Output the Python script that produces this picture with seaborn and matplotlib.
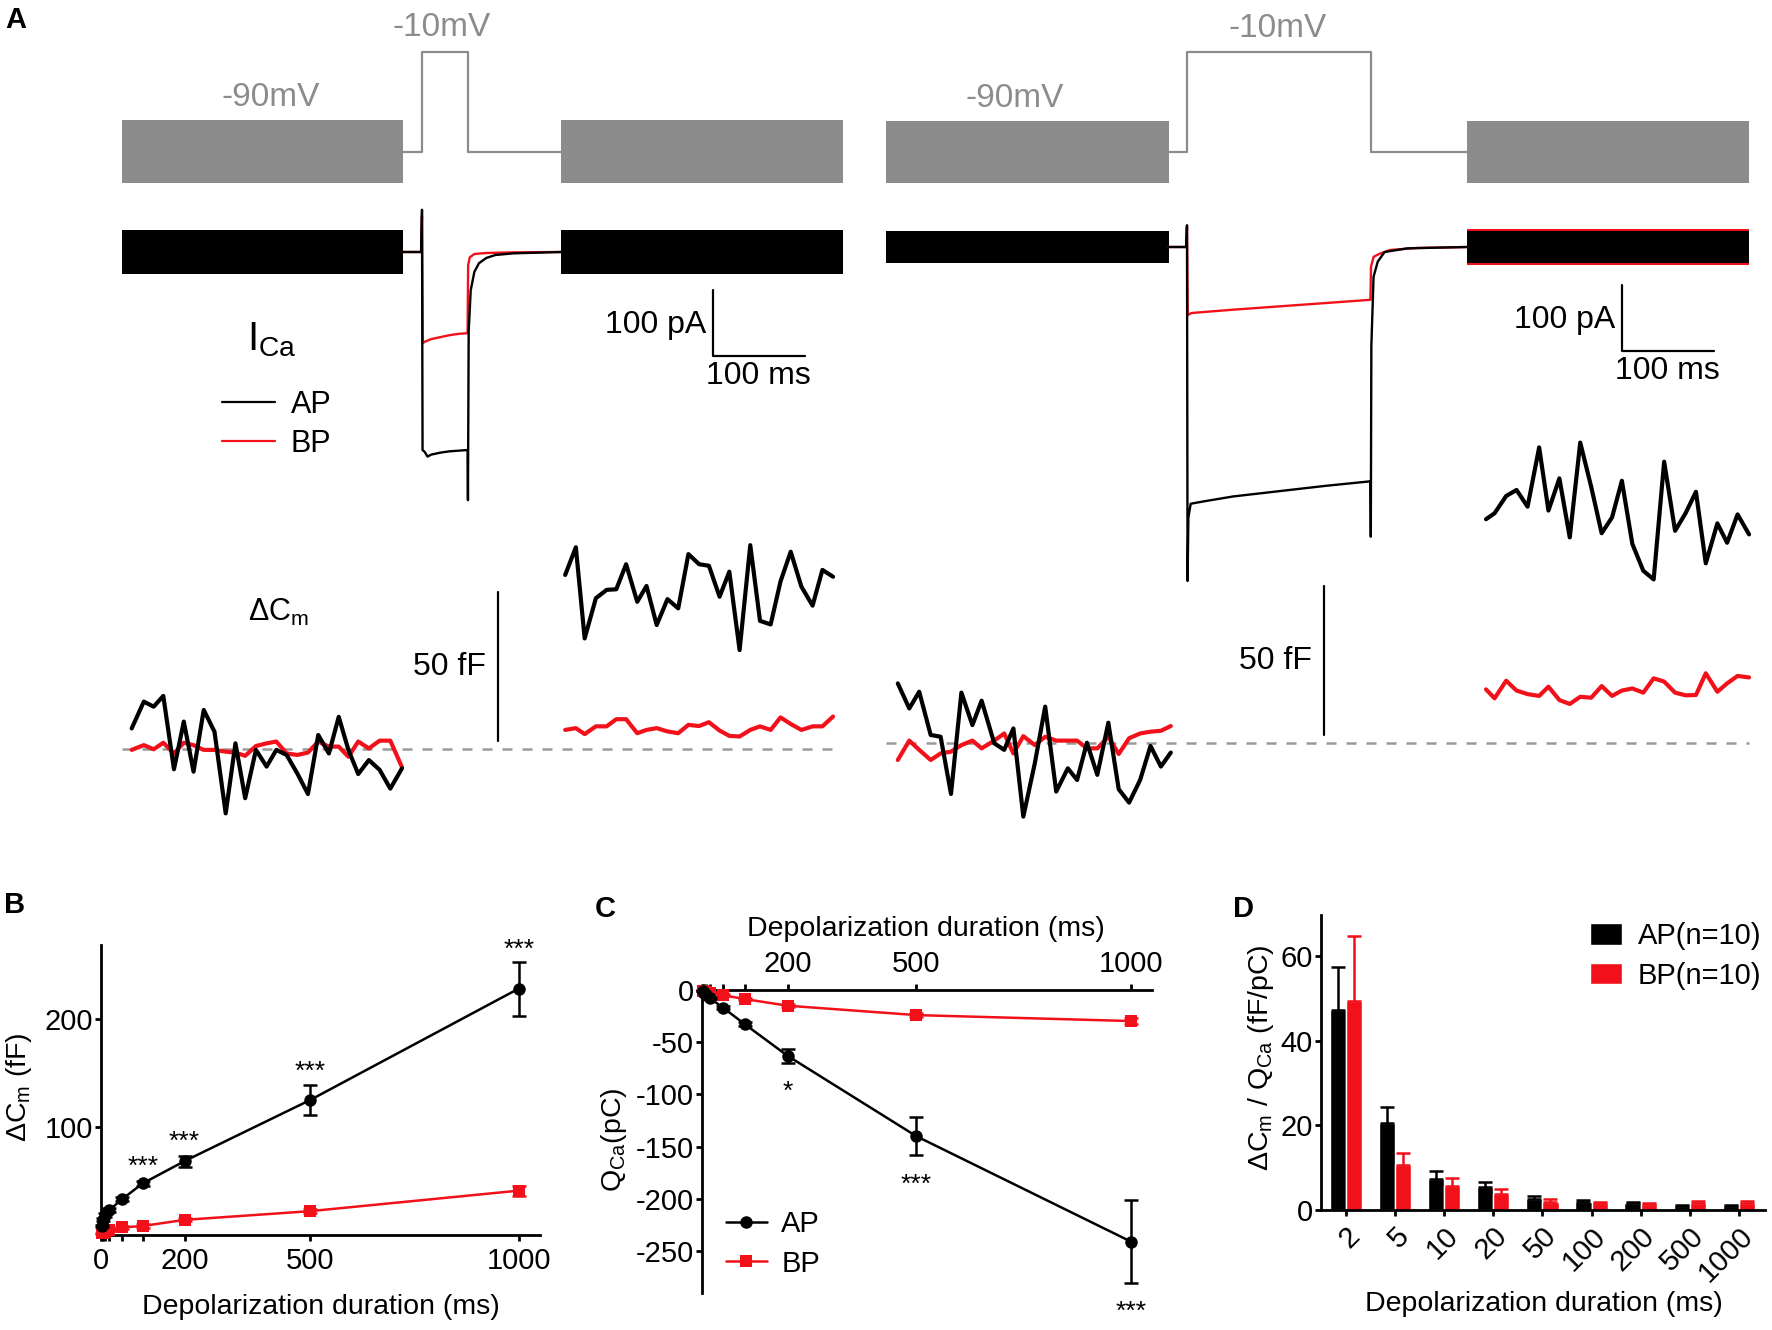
import numpy as np
import pandas as pd
import matplotlib
matplotlib.use("Agg")
import matplotlib.pyplot as plt
from matplotlib.lines import Line2D
import seaborn as sns

# ---------------- data ----------------
# depolarization durations (ms) used in B, C, D
DURATIONS = [2, 5, 10, 20, 50, 100, 200, 500, 1000]

# B: delta Cm (fF)
CM_AP = [8, 14, 18.5, 23, 33, 47.7, 68.3, 124.6, 227.7]
CM_AP_SEM = [1, 1.5, 1.5, 2, 2, 2.5, 5, 14, 25]
CM_BP = [1.5, 2, 3, 4.6, 7, 8.3, 14, 22, 41]
CM_BP_SEM = [0.5, 0.5, 0.5, 1, 1, 1.5, 1.5, 2, 4.5]
STARS_B_X = [100, 200, 500, 1000]
STARS_B_Y = [69, 92, 157, 270]
STARS_B_TXT = ["***", "***", "***", "***"]

# C: Q_Ca (pC)
QCA_AP = [-1, -2.5, -5, -8, -17, -32.6, -63, -140, -241]
QCA_AP_SEM = [0.3, 0.5, 1, 1, 1.5, 2, 7, 18, 40]
QCA_BP = [-0.5, -1, -1.6, -2.5, -5, -8.6, -15, -24, -29.7]
QCA_BP_SEM = [0.2, 0.3, 0.4, 0.5, 1, 1, 1.5, 2, 2.5]
STARS_C_X = [200, 500, 1000]
STARS_C_Y = [-91, -180, -302]
STARS_C_TXT = ["*", "***", "***"]

# D: dCm / QCa (fF/pC)
RATIO_AP = [47.2, 20.6, 7.4, 5.4, 2.5, 2.0, 1.6, 1.0, 1.0]
RATIO_AP_SEM = [10.2, 3.8, 1.9, 1.2, 0.8, 0.3, 0.25, 0.25, 0.25]
RATIO_BP = [49.4, 10.6, 5.7, 3.8, 2.0, 1.7, 1.4, 1.6, 1.7]
RATIO_BP_SEM = [15.3, 2.8, 1.8, 1.2, 0.5, 0.3, 0.25, 0.6, 0.5]

# A: voltage protocol (mV), time in ms with t=0 at step onset
HOLD_MV = -90
STEP_MV = -10
SINE_AMP_MV = 25
L_SINE_BLOCKS = [(-326, -21), (151, 458)]
R_SINE_BLOCKS = [(-328, -20), (305, 612)]
L_PROT_T = [-21, 0, 0, 50, 50, 151]
R_PROT_T = [-20, 0, 0, 200, 200, 305]
PROT_V = [-90, -90, -10, -10, -90, -90]

# A: calcium currents (pA)
L_NOISE_PA = 33
R_NOISE_PA = 24
L_AP_T = [-21, -1, 0, 0.6, 3, 6, 10, 20, 30, 40, 49.6, 50, 50.8, 53, 57, 62, 70, 80, 100, 151]
L_AP_I = [0, 0, 64, -300, -303, -310, -307, -304, -302, -301, -300, -376, -120, -58, -30, -17, -9, -4.5, -2, 0]
L_BP_T = [-21, -1, 0, 0.8, 3, 10, 20, 30, 40, 49.6, 50.2, 52, 57, 70, 100, 151]
L_BP_I = [0, 0, 55, -138, -136, -132, -129, -126, -124, -123, -20, -8, -3, -1.5, -0.5, 0]
R_AP_T = [-20, -1, 0, 0.6, 1.5, 4, 20, 50, 100, 150, 199.6, 200, 200.6, 203, 207.6, 215, 240, 305]
R_AP_I = [0, 0, 33, -506, -410, -389, -385, -378, -370, -362, -355, -439, -150, -45, -22, -7.6, -2, 0]
R_BP_T = [-20, -1, 0, 0.8, 5, 50, 100, 150, 199.6, 200.2, 203, 209, 221, 250, 305]
R_BP_I = [0, 0, 30, -103, -100, -95, -90, -85, -80, -30, -15, -10.6, -4.5, -1.5, 0]

# A: capacitance traces (fF)
L_PRE_T = [-315.9, -302.7, -292.0, -281.5, -269.9, -259.2, -248.6, -237.5, -225.8, -213.6,
           -203.0, -192.4, -180.7, -169.1, -158.5, -147.3, -135.7, -124.1, -112.9, -101.3,
           -90.6, -80.1, -69.4, -57.8, -46.1, -34.5, -21.8]
L_PRE_AP = [6.9, 15.9, 14.2, 17.8, -6.8, 9.2, -7.6, 13.1, 5.8, -21.6, 1.9, -16.5, -0.3, -5.9,
            -0.3, -2.0, -8.2, -15.1, 4.7, -1.5, 10.8, -0.3, -8.4, -3.7, -7.0, -13.3, -6.5]
L_PRE_BP = [-0.3, 1.3, -0.1, 2.1, -1.5, 2.1, 1.3, -0.3, -0.3, -0.9, -1.2, -2.3, 1.0, 1.9,
            2.5, -1.5, -2.0, -1.2, 2.5, 0.8, 0.8, -2.6, 2.5, 0.2, 2.8, 2.8, -6.1]
L_POST_T = [155.8, 167.4, 177.0, 189.2, 200.9, 211.4, 222.1, 234.2, 244.3, 255.4, 267.1,
            278.8, 289.9, 301.5, 312.2, 323.8, 334.4, 345.6, 357.2, 367.8, 379.4, 390.1,
            401.2, 412.8, 425.0, 435.7, 447.3]
L_POST_AP = [58.4, 67.7, 37.1, 50.6, 53.4, 53.6, 62.0, 49.4, 54.7, 41.6, 50.3, 47.2, 65.4,
             62.0, 61.5, 51.1, 59.5, 33.2, 68.4, 43.0, 41.8, 56.2, 66.2, 54.5, 48.1, 60.1, 57.8]
L_POST_BP = [6.4, 7.0, 5.0, 7.6, 7.6, 10.0, 10.0, 5.3, 6.4, 7.0, 5.9, 5.3, 8.1, 7.7, 9.0,
             6.2, 4.4, 4.2, 6.4, 7.6, 6.4, 10.6, 8.4, 6.4, 7.6, 7.6, 10.9]
R_PRE_T = [-314.7, -302.2, -291.4, -278.9, -268.1, -256.8, -245.5, -233.5, -223.5, -209.7,
           -198.9, -188.9, -178.1, -165.6, -154.3, -142.3, -129.7, -119.6, -108.9, -97.6,
           -85.6, -74.3, -63.0, -51.0, -39.7, -28.4, -17.6]
R_PRE_AP = [20.0, 11.6, 17.2, 2.7, 2.1, -17.1, 16.9, 6.0, 14.2, -0.1, -2.3, 4.9, -24.7, -6.8,
            12.2, -16.3, -8.5, -12.4, 0.1, -10.7, 6.8, -15.5, -20.0, -12.4, -1.0, -7.9, -3.2]
R_PRE_BP = [-5.7, 0.8, -2.3, -5.7, -3.5, -2.9, -0.7, 0.8, -1.8, 0.8, 3.2, -3.5, 2.3, -0.7,
            2.1, 0.8, 0.8, 0.8, -1.8, -1.8, 2.1, -3.7, 1.6, 3.2, 3.8, 4.1, 5.7]
R_POST_T = [325.4, 334.7, 347.3, 358.6, 370.6, 383.2, 393.3, 405.2, 416.5, 427.9, 439.8,
            451.2, 462.5, 473.2, 484.6, 496.5, 507.8, 519.2, 531.1, 542.5, 553.8, 564.5,
            577.1, 587.7, 599.1, 611.6]
R_POST_AP = [75.1, 77.1, 82.9, 84.9, 79.3, 99.2, 78.0, 88.8, 69.0, 100.8, 86.0, 70.4, 75.7,
             88.0, 66.8, 57.8, 54.9, 94.4, 71.2, 77.1, 84.3, 60.3, 73.7, 67.2, 76.7, 70.0]
R_POST_BP = [18.0, 15.0, 20.9, 17.6, 16.4, 15.8, 18.9, 14.4, 13.1, 15.5, 15.2, 19.1, 15.8,
             17.6, 18.3, 16.9, 21.7, 20.6, 16.9, 16.0, 16.1, 23.4, 17.2, 20.0, 22.5, 22.0]

# ---------------- style ----------------
sns.set_theme(style="ticks")
plt.rcParams["font.family"] = ["Liberation Sans", "DejaVu Sans"]
plt.rcParams["mathtext.fontset"] = "custom"
plt.rcParams["mathtext.rm"] = "Liberation Sans"
plt.rcParams["mathtext.it"] = "Liberation Sans:italic"
plt.rcParams["mathtext.default"] = "regular"
plt.rcParams["axes.unicode_minus"] = False
for k in ["text.color", "axes.labelcolor", "xtick.color", "ytick.color", "axes.edgecolor"]:
    plt.rcParams[k] = "black"

BLACK = "black"
RED = "#f2111a"
GREY = "#8c8c8c"
TICK_FS = 21
LABEL_FS = 20.5
A_FS = 23
W, H = 1772, 1330
fig = plt.figure(figsize=(W / 100, H / 100), dpi=100)


def px_axes(x0, y0, x1, y1):
    ax = fig.add_axes([x0 / W, 1 - y1 / H, (x1 - x0) / W, (y1 - y0) / H])
    ax.patch.set_alpha(0)
    return ax


MS_PX = 0.919  # px per ms in panel A


def trace_axes(x0, x1, y0, y1, t0_px, ref_px, ref_val, px_per_unit):
    ax = px_axes(x0, y0, x1, y1)
    ax.set_xlim((x0 - t0_px) / MS_PX, (x1 - t0_px) / MS_PX)
    ax.set_ylim(ref_val - (y1 - ref_px) / px_per_unit, ref_val + (ref_px - y0) / px_per_unit)
    ax.set_axis_off()
    return ax


def line(ax, x, y, color, lw):
    sns.lineplot(x=x, y=y, sort=False, estimator=None, color=color, lw=lw, ax=ax)


# ---------------- panel A ----------------
sides = [
    dict(x0=100, x1=860, t0=422, v_ref=151.5, i_ref=252, c_ref=749, blocks=L_SINE_BLOCKS,
         prot_t=L_PROT_T, noise=L_NOISE_PA, ap=(L_AP_T, L_AP_I), bp=(L_BP_T, L_BP_I),
         pre=(L_PRE_T, L_PRE_AP, L_PRE_BP), post=(L_POST_T, L_POST_AP, L_POST_BP),
         lab90=-165, lab10=21, sb_t=317, pa_t=309, ms_t=366, ff_t=82.7, fflab_t=70, red_edge=False),
    dict(x0=860, x1=1772, t0=1187, v_ref=152, i_ref=247, c_ref=743, blocks=R_SINE_BLOCKS,
         prot_t=R_PROT_T, noise=R_NOISE_PA, ap=(R_AP_T, R_AP_I), bp=(R_BP_T, R_BP_I),
         pre=(R_PRE_T, R_PRE_AP, R_PRE_BP), post=(R_POST_T, R_POST_AP, R_POST_BP),
         lab90=-187, lab10=99, sb_t=473, pa_t=466, ms_t=523, ff_t=149, fflab_t=136, red_edge=True),
]

for s in sides:
    # voltage protocol
    axv = trace_axes(s["x0"], s["x1"], 0, 215, s["t0"], s["v_ref"], HOLD_MV, 1.25)
    for a, b in s["blocks"]:
        axv.fill_between([a, b], HOLD_MV - SINE_AMP_MV, HOLD_MV + SINE_AMP_MV, color=GREY, lw=0)
    line(axv, s["prot_t"], PROT_V, GREY, 1.6)
    axv.text(s["lab90"], HOLD_MV + 43, "-90mV", color=GREY, fontsize=A_FS + 1, ha="center", va="center")
    axv.text(s["lab10"], STEP_MV + 19, "-10mV", color=GREY, fontsize=A_FS + 1, ha="center", va="center")

    # calcium current
    axi = trace_axes(s["x0"], s["x1"], 185, 620, s["t0"], s["i_ref"], 0, 0.66)
    for k, (a, b) in enumerate(s["blocks"]):
        if s["red_edge"] and k == 1:
            axi.fill_between([a, b], -s["noise"] - 3, s["noise"] + 3, color=RED, lw=0)
        axi.fill_between([a, b], -s["noise"], s["noise"], color=BLACK, lw=0)
    line(axi, s["bp"][0], s["bp"][1], RED, 1.7)
    line(axi, s["ap"][0], s["ap"][1], BLACK, 1.7)
    axi.plot([s["sb_t"], s["sb_t"], s["sb_t"] + 100], [-58, -158, -158], color=BLACK, lw=1.6)
    axi.text(s["pa_t"], -110, "100 pA", fontsize=A_FS, ha="right", va="center")
    axi.text(s["ms_t"], -188, "100 ms", fontsize=A_FS, ha="center", va="center")

    # capacitance
    axc = trace_axes(s["x0"], s["x1"], 400, 870, s["t0"], s["c_ref"], 0, 2.98)
    axc.hlines(0, s["blocks"][0][0], s["post"][0][-1], colors="#9a9a9a", linestyles=(0, (4, 4)), lw=1.8)
    line(axc, s["pre"][0], s["pre"][2], RED, 3)
    line(axc, s["pre"][0], s["pre"][1], BLACK, 3)
    line(axc, s["post"][0], s["post"][2], RED, 3)
    line(axc, s["post"][0], s["post"][1], BLACK, 3)
    axc.plot([s["ff_t"], s["ff_t"]], [2.7, 52.7], color=BLACK, lw=1.6)
    axc.text(s["fflab_t"], 27.5, "50 fF", fontsize=A_FS, ha="right", va="center")

fig.text(272 / W, 1 - 340 / H, "I$_{Ca}$", fontsize=29, ha="center", va="center")
fig.text(279 / W, 1 - 612 / H, "\u0394C$_{m}$", fontsize=22, ha="center", va="center")
fig.legend(handles=[Line2D([], [], color=BLACK, lw=1.6), Line2D([], [], color=RED, lw=1.6)],
           labels=["AP", "BP"], loc="upper left", bbox_to_anchor=(222 / W, 1 - 390 / H),
           frameon=False, fontsize=A_FS - 1, handlelength=1.75, handletextpad=0.5,
           labelspacing=0.3, borderpad=0, borderaxespad=0)

# ---------------- shared axes style ----------------
def style(ax):
    for sp in ["left", "bottom", "top", "right"]:
        ax.spines[sp].set_linewidth(2)
    ax.tick_params(width=2, length=4.5, labelsize=TICK_FS, pad=3)


# ---------------- panel B ----------------
axB = px_axes(101, 945, 540, 1235)
sns.lineplot(x=DURATIONS, y=CM_BP, color=RED, marker="s", markersize=9, markeredgewidth=0,
             lw=1.8, ax=axB, clip_on=False, zorder=3)
axB.errorbar(DURATIONS, CM_BP, yerr=CM_BP_SEM, fmt="none", ecolor=RED, elinewidth=1.8,
             capsize=5, capthick=1.8, clip_on=False, zorder=3)
sns.lineplot(x=DURATIONS, y=CM_AP, color=BLACK, marker="o", markersize=9, markeredgewidth=0,
             lw=1.8, ax=axB, clip_on=False, zorder=4)
axB.errorbar(DURATIONS, CM_AP, yerr=CM_AP_SEM, fmt="none", ecolor=BLACK, elinewidth=1.8,
             capsize=5, capthick=1.8, clip_on=False, zorder=4)
for x, y, t in zip(STARS_B_X, STARS_B_Y, STARS_B_TXT):
    axB.annotate(t, (x, y), xytext=(0, -10), textcoords="offset points", ha="center",
                 va="baseline", fontsize=19, annotation_clip=False)
axB.set_xlim(0, 1051)
axB.set_ylim(0, 268)
sns.despine(ax=axB)
style(axB)
axB.set_xticks([0] + DURATIONS)
axB.set_xticklabels(["0", "", "", "", "", "", "", "200", "500", "1000"])
axB.set_yticks([100, 200])
axB.tick_params(axis="x", pad=4)
axB.tick_params(axis="y", pad=1)
axB.set_xlabel("Depolarization duration (ms)", fontsize=LABEL_FS)
axB.set_ylabel("\u0394C$_{m}$ (fF)", fontsize=LABEL_FS)
axB.xaxis.set_label_coords(321 / W, 1 - 1294 / H, transform=fig.transFigure)
axB.yaxis.set_label_coords(34 / W, 1 - 1087 / H, transform=fig.transFigure)

# ---------------- panel C ----------------
axC = px_axes(701.7, 986.7, 1152, 1293.3)
sns.lineplot(x=DURATIONS, y=QCA_BP, color=RED, marker="s", markersize=9, markeredgewidth=0,
             lw=1.8, ax=axC, clip_on=False, zorder=3, label="BP")
axC.errorbar(DURATIONS, QCA_BP, yerr=QCA_BP_SEM, fmt="none", ecolor=RED, elinewidth=1.8,
             capsize=5, capthick=1.8, clip_on=False, zorder=3)
sns.lineplot(x=DURATIONS, y=QCA_AP, color=BLACK, marker="o", markersize=9, markeredgewidth=0,
             lw=1.8, ax=axC, clip_on=False, zorder=4, label="AP")
axC.errorbar(DURATIONS, QCA_AP, yerr=QCA_AP_SEM, fmt="none", ecolor=BLACK, elinewidth=1.8,
             capsize=5, capthick=1.8, clip_on=False, zorder=4)
for x, y, t in zip(STARS_C_X, STARS_C_Y, STARS_C_TXT):
    axC.annotate(t, (x, y), xytext=(0, -10), textcoords="offset points", ha="center",
                 va="baseline", fontsize=19, annotation_clip=False)
axC.set_xlim(0, 1049)
axC.set_ylim(-290.5, 3.2)
axC.spines["right"].set_visible(False)
axC.spines["bottom"].set_visible(False)
axC.spines["top"].set_position(("data", 0))
style(axC)
axC.xaxis.set_ticks_position("top")
axC.xaxis.set_label_position("top")
axC.set_xticks([0] + DURATIONS)
axC.set_xticklabels(["", "", "", "", "", "", "", "200", "500", "1000"])
axC.set_yticks([0, -50, -100, -150, -200, -250])
axC.tick_params(axis="x", pad=4)
axC.tick_params(axis="y", pad=1)
axC.set_xlabel("Depolarization duration (ms)", fontsize=LABEL_FS)
axC.set_ylabel("Q$_{Ca}$(pC)", fontsize=LABEL_FS)
axC.xaxis.set_label_coords(926 / W, 1 - 936 / H, transform=fig.transFigure)
axC.yaxis.set_label_coords(629 / W, 1 - 1140 / H, transform=fig.transFigure)
h, l = axC.get_legend_handles_labels()
axC.legend(h[::-1], l[::-1], loc="upper left", bbox_to_anchor=(726 / W, 1 - 1210 / H),
           bbox_transform=fig.transFigure, frameon=False, fontsize=21, handlelength=1.4,
           handletextpad=0.5, labelspacing=0.4, borderpad=0, borderaxespad=0)

# ---------------- panel D ----------------
axD = px_axes(1320.5, 915, 1765, 1210)
labels_d = [str(d) for d in DURATIONS]
df_d = pd.DataFrame({
    "duration": labels_d * 2,
    "ratio": RATIO_AP + RATIO_BP,
    "group": ["AP(n=10)"] * 9 + ["BP(n=10)"] * 9,
})
sns.barplot(data=df_d, x="duration", y="ratio", hue="group", order=labels_d,
            hue_order=["AP(n=10)", "BP(n=10)"], palette=[BLACK, RED], width=0.66,
            errorbar=None, saturation=1, ax=axD)
for cont, col, sem in zip(axD.containers, [BLACK, RED], [RATIO_AP_SEM, RATIO_BP_SEM]):
    xs = [b.get_x() + b.get_width() / 2 for b in cont]
    hs = [b.get_height() for b in cont]
    axD.errorbar(xs, hs, yerr=[np.zeros(len(sem)), sem], fmt="none", ecolor=col,
                 elinewidth=1.8, capsize=5, capthick=1.8, clip_on=False)
axD.set_xlim(-0.515, 8.53)
axD.set_ylim(0, 69.7)
sns.despine(ax=axD)
style(axD)
axD.set_yticks([0, 20, 40, 60])
axD.set_xticks(range(9))
axD.set_xticklabels(labels_d, rotation=45, ha="right", rotation_mode="anchor")
axD.tick_params(axis="x", pad=4)
axD.tick_params(axis="y", pad=1)
axD.set_xlabel("Depolarization duration (ms)", fontsize=LABEL_FS)
axD.set_ylabel("\u0394C$_{m}$ / Q$_{Ca}$ (fF/pC)", fontsize=LABEL_FS)
axD.xaxis.set_label_coords(1544 / W, 1 - 1291 / H, transform=fig.transFigure)
axD.yaxis.set_label_coords(1276 / W, 1 - 1058 / H, transform=fig.transFigure)
axD.legend(loc="upper left", bbox_to_anchor=(1590 / W, 1 - 922 / H),
           bbox_transform=fig.transFigure, frameon=False, fontsize=21, handlelength=1.1,
           handleheight=0.75, handletextpad=0.55, labelspacing=0.4, borderpad=0,
           borderaxespad=0, title=None)

# ---------------- panel letters ----------------
for x, y, t in [(5, 28, "A"), (4, 913, "B"), (595, 917, "C"), (1233, 917, "D")]:
    fig.text(x / W, 1 - y / H, t, fontsize=21, fontweight="bold", va="baseline", ha="left")

fig.savefig("out.png", dpi=100)
